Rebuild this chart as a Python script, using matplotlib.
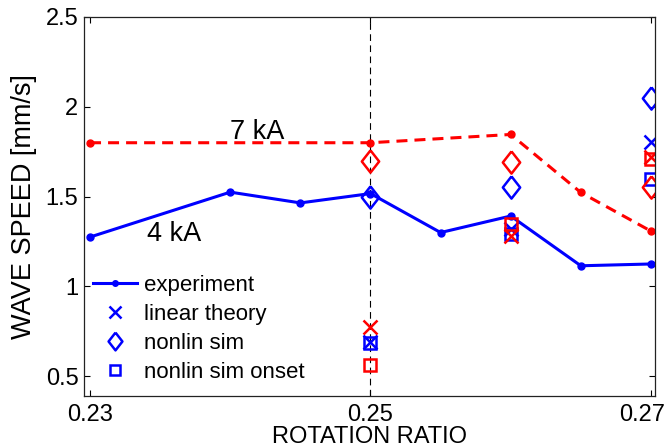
import matplotlib
matplotlib.use("Agg")
import matplotlib.pyplot as plt
import matplotlib.transforms as mtransforms
from matplotlib.ticker import FormatStrFormatter

plt.rcParams["font.family"] = ["Liberation Sans", "DejaVu Sans"]

# measured wave speed vs rotation ratio
x_4ka = [0.23, 0.24, 0.245, 0.25, 0.255, 0.26, 0.265, 0.27]
v_4ka = [1.275, 1.525, 1.465, 1.517, 1.30, 1.392, 1.115, 1.125]
x_7ka = [0.23, 0.25, 0.26, 0.265, 0.27]
v_7ka = [1.80, 1.80, 1.846, 1.523, 1.308]

# simulation / theory points
sim_x = [0.25, 0.26, 0.27]
lin_4ka = [0.69, 1.32, 1.805]
lin_7ka = [0.775, 1.28, 1.72]
nonlin_4ka = [1.50, 1.555, 2.05]
nonlin_7ka = [1.70, 1.69, 1.555]
onset_4ka = [0.685, 1.29, 1.60]
onset_7ka = [0.56, 1.35, 1.71]

xticks = [0.23, 0.25, 0.27]
yticks = [0.5, 1, 1.5, 2, 2.5]

W, H = 671, 448
fig = plt.figure(figsize=(W / 100, H / 100), dpi=100)
L, R, T, B = 84, 655, 17, 396
ax = fig.add_axes([L / W, 1 - B / H, (R - L) / W, (B - T) / H])

diamond = [(0, 1), (0.78, 0), (0, -1), (-0.78, 0), (0, 1)]
blue, red = "#0000ff", "#ff0000"

ax.axvline(0.25, color="k", lw=0.8, dashes=(6, 4), zorder=1)

ax.plot(x_4ka, v_4ka, "-", color=blue, lw=2.2, marker="o", ms=5,
        label="experiment", zorder=2)
ax.plot(x_7ka, v_7ka, color=red, lw=2.2, dashes=(3.6, 2.3), marker="o",
        ms=5, zorder=2)

mk = dict(ls="none", mfc="none", mew=1.8)
ax.plot(sim_x, lin_4ka, marker="x", ms=10, color=blue, label="linear theory", **mk)
ax.plot(sim_x, nonlin_4ka, marker=diamond, ms=16, color=blue, label="nonlin sim", **mk)
ax.plot(sim_x, onset_4ka, marker="s", ms=9, color=blue, label="nonlin sim onset", **mk)
ax.plot(sim_x, lin_7ka, marker="x", ms=10, color=red, **mk)
ax.plot(sim_x, nonlin_7ka, marker=diamond, ms=16, color=red, **mk)
ax.plot(sim_x, onset_7ka, marker="s", ms=9, color=red, **mk)

ax.text(0.2419, 1.859, "7 kA", fontsize=19.5, ha="center", va="center")
ax.text(0.236, 1.291, "4 kA", fontsize=19.5, ha="center", va="center")

ax.set_xlim(0.22957, 0.27029)
ax.set_ylim(0.39, 2.5)
ax.set_xticks(xticks)
ax.set_yticks(yticks)
ax.yaxis.set_major_formatter(FormatStrFormatter("%g"))
ax.tick_params(direction="in", length=4.5, width=0.8, top=True, right=True,
               labelsize=17)
ax.tick_params(axis="y", pad=4)
ax.tick_params(axis="x", pad=6)
for s in ax.spines.values():
    s.set_linewidth(0.9)
    s.set_color("#222222")

# keep the last x tick label inside the figure, as in the original
last = ax.get_xticklabels()[-1]
last.set_transform(last.get_transform() +
                   mtransforms.ScaledTranslation(-9 / 100, 0, fig.dpi_scale_trans))

ax.set_xlabel("ROTATION RATIO", fontsize=17)
ax.set_ylabel("WAVE SPEED [mm/s]", fontsize=19.5)
ax.xaxis.set_label_coords(0.5, -0.078)
ax.yaxis.set_label_coords(-0.082, 0.5)

ax.legend(loc="upper left", bbox_to_anchor=(93 / W, 1 - 275 / H),
          bbox_transform=fig.transFigure, frameon=False, fontsize=16,
          borderpad=0, borderaxespad=0, handlelength=2.0, handletextpad=0.3,
          labelspacing=0.36, markerscale=0.8)

fig.savefig("out.png", dpi=100)
